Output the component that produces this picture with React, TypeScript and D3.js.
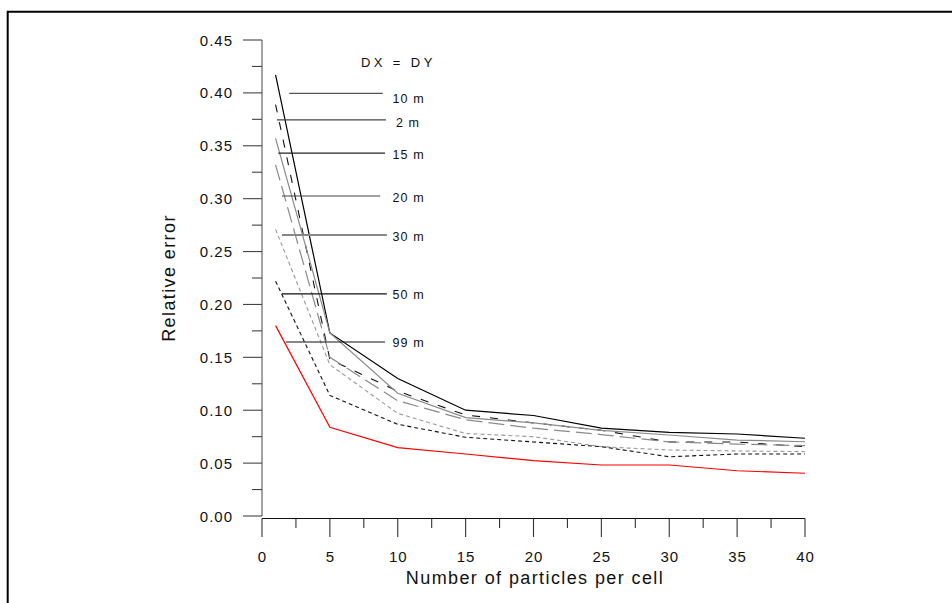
import React from "react";
import * as d3 from "d3";

// ---- data ----
const particles = [1, 5, 10, 15, 20, 25, 30, 35, 40];
const err10m = [0.417, 0.173, 0.130, 0.100, 0.095, 0.083, 0.079, 0.0775, 0.0735];
const err2m = [0.389, 0.148, 0.118, 0.0955, 0.088, 0.081, 0.070, 0.070, 0.0655];
const err15m = [0.357, 0.173, 0.116, 0.093, 0.088, 0.081, 0.0766, 0.0718, 0.0702];
const err20m = [0.332, 0.150, 0.109, 0.091, 0.083, 0.077, 0.070, 0.068, 0.0665];
const err30m = [0.271, 0.143, 0.097, 0.078, 0.075, 0.0655, 0.0624, 0.0615, 0.0608];
const err50m = [0.222, 0.114, 0.0867, 0.0744, 0.070, 0.0655, 0.056, 0.0586, 0.0586];
const err99m = [0.180, 0.0838, 0.0646, 0.0586, 0.0523, 0.0482, 0.0482, 0.0428, 0.0404];

const seriesNames = ["10 m", "2 m", "15 m", "20 m", "30 m", "50 m", "99 m"];
const seriesValues = [err10m, err2m, err15m, err20m, err30m, err50m, err99m];
// legend anchor values (data units) where each legend line is drawn
const legendY = [0.3996, 0.3744, 0.343, 0.3025, 0.2656, 0.21, 0.1645];
const legendX0 = [2.0, 1.1, 1.2, 1.47, 1.47, 1.47, 1.77];
const legendX1 = [8.9, 9.13, 9.06, 8.7, 9.2, 9.2, 9.06];

const yTicks = [0, 0.05, 0.1, 0.15, 0.2, 0.25, 0.3, 0.35, 0.4, 0.45];
const xTicks = [0, 5, 10, 15, 20, 25, 30, 35, 40];

// ---- styles ----
const seriesStyle = [
  { stroke: "#000", width: 1.2, dash: "" },
  { stroke: "#111", width: 1.1, dash: "8,10" },
  { stroke: "#8a8a8a", width: 1.2, dash: "" },
  { stroke: "#8a8a8a", width: 1.2, dash: "16,6" },
  { stroke: "#999", width: 1.1, dash: "4,3" },
  { stroke: "#111", width: 1.1, dash: "4,3" },
  { stroke: "#ff0000", width: 1.2, dash: "" },
];
const legendStyle = [
  { stroke: "#555", width: 1.2 },
  { stroke: "#444", width: 1.2 },
  { stroke: "#222", width: 1.2 },
  { stroke: "#444", width: 1.2 },
  { stroke: "#888", width: 2 },
  { stroke: "#111", width: 1.2 },
  { stroke: "#111", width: 1.2 },
];

const FONT = "'Liberation Sans', Arial, sans-serif";

export default function App() {
  const W = 952;
  const H = 603;
  const x = d3.scaleLinear().domain([0, 40]).range([262, 805]);
  const y = d3.scaleLinear().domain([0, 0.45]).range([516, 40]);
  const xAxisY = 518.5;

  const line = d3
    .line<number>()
    .x((_, i) => x(particles[i]))
    .y((d) => y(d));

  const yMinor = d3.range(0.025, 0.45, 0.05);
  const xMinor = d3.range(2.5, 40, 5);

  return (
    <div style={{ position: "fixed", left: 0, top: 0, width: W, height: H, background: "#fff" }}>
      <svg width={W} height={H} style={{ display: "block" }}>
        <rect x={0} y={0} width={W} height={H} fill="#fff" />
        {/* outer frame */}
        <path d={`M7.7,${H + 5} L7.7,11.7 L${W + 5},11.7`} fill="none" stroke="#000" strokeWidth={2} />

        {/* Y axis */}
        <line x1={x(0)} x2={x(0)} y1={y(0.45)} y2={y(0)} stroke="#666" strokeWidth={1.2} />
        {yTicks.map((t) => (
          <g key={"yt" + t}>
            <line x1={243} x2={x(0)} y1={y(t)} y2={y(t)} stroke="#444" strokeWidth={1.1} />
            <text
              x={233}
              y={y(t)}
              textAnchor="end"
              dominantBaseline="central"
              fontFamily={FONT}
              fontSize={15}
              letterSpacing={1}
              fill="#111"
            >
              {t.toFixed(2)}
            </text>
          </g>
        ))}
        {yMinor.map((t) => (
          <line key={"ym" + t} x1={252} x2={x(0)} y1={y(t)} y2={y(t)} stroke="#444" strokeWidth={1.1} />
        ))}

        {/* X axis */}
        <line x1={x(0)} x2={x(40)} y1={xAxisY} y2={xAxisY} stroke="#111" strokeWidth={1.1} />
        {xTicks.map((t) => (
          <g key={"xt" + t}>
            <line x1={x(t)} x2={x(t)} y1={xAxisY} y2={537} stroke="#333" strokeWidth={1.1} />
            <text
              x={x(t) + 0.5}
              y={556}
              textAnchor="middle"
              dominantBaseline="central"
              fontFamily={FONT}
              fontSize={15}
              letterSpacing={1}
              fill="#111"
            >
              {t}
            </text>
          </g>
        ))}
        {xMinor.map((t) => (
          <line key={"xm" + t} x1={x(t)} x2={x(t)} y1={xAxisY} y2={528} stroke="#333" strokeWidth={1.1} />
        ))}

        {/* Axis titles */}
        <text
          x={535}
          y={578}
          textAnchor="middle"
          dominantBaseline="central"
          fontFamily={FONT}
          fontSize={18}
          letterSpacing={1.4}
          fill="#111"
        >
          Number of particles per cell
        </text>
        <text
          transform={`translate(169,278) rotate(-90)`}
          textAnchor="middle"
          dominantBaseline="central"
          fontFamily={FONT}
          fontSize={18}
          letterSpacing={1.4}
          fill="#111"
        >
          Relative error
        </text>

        {/* series */}
        {seriesValues.map((vals, i) => (
          <path
            key={"s" + i}
            d={line(vals) || ""}
            fill="none"
            stroke={seriesStyle[i].stroke}
            strokeWidth={seriesStyle[i].width}
            strokeDasharray={seriesStyle[i].dash}
          />
        ))}

        {/* legend */}
        <text x={361} y={62} dominantBaseline="central" fontFamily={FONT} fontSize={13} letterSpacing={3.4} fill="#111">
          DX = DY
        </text>
        {seriesNames.map((name, i) => (
          <g key={"lg" + i}>
            <line
              x1={x(legendX0[i])}
              x2={x(legendX1[i])}
              y1={y(legendY[i])}
              y2={y(legendY[i])}
              stroke={legendStyle[i].stroke}
              strokeWidth={legendStyle[i].width}
            />
            <text
              x={i === 1 ? 396 : 392.5}
              y={y(legendY[i]) + (i === 0 ? 5.5 : i === 1 ? 2.7 : i === 3 ? 2.3 : 1.5)}
              dominantBaseline="central"
              fontFamily={FONT}
              fontSize={12.5}
              letterSpacing={1.1}
              fill="#111"
            >
              {name}
            </text>
          </g>
        ))}
      </svg>
    </div>
  );
}
